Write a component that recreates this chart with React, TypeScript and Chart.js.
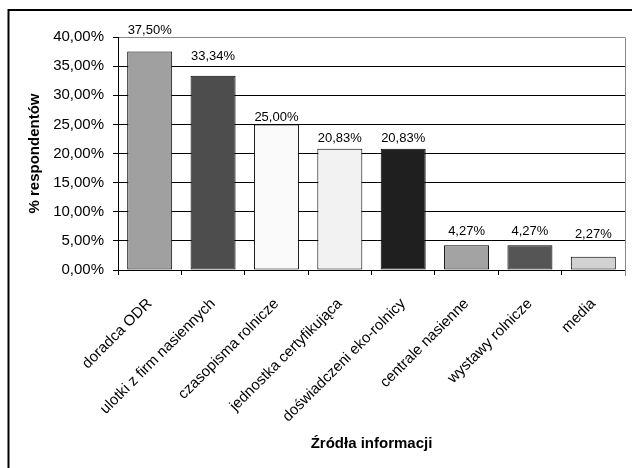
import React, { useEffect, useRef } from 'react';
import { Chart, registerables } from 'chart.js';

Chart.register(...registerables);

const categories = [
  'doradca ODR',
  'ulotki z firm nasiennych',
  'czasopisma rolnicze',
  'jednostka certyfikująca',
  'doświadczeni eko-rolnicy',
  'centrale nasienne',
  'wystawy rolnicze',
  'media',
];
const values = [37.5, 33.34, 25.0, 20.83, 20.83, 4.27, 4.27, 2.27];
const valueLabels = ['37,50%', '33,34%', '25,00%', '20,83%', '20,83%', '4,27%', '4,27%', '2,27%'];
const barColors = ['#a0a0a0', '#4d4d4d', '#fafafa', '#f2f2f2', '#1f1f1f', '#a3a3a3', '#555555', '#d2d2d2'];
const labelGaps = [18, 16, 3.5, 7, 7, 10, 10, 19];
const yTitle = '% respondentów';
const xTitle = 'Źródła informacji';
const yMin = 0;
const yMax = 40;
const yStep = 5;

const FONT = "'Liberation Sans', Arial, sans-serif";

const framePlugin = {
  id: 'frame',
  beforeDraw(chart: any) {
    const ctx = chart.ctx;
    ctx.save();
    ctx.fillStyle = '#ffffff';
    ctx.fillRect(0, 0, chart.width, chart.height);
    ctx.strokeStyle = '#000000';
    ctx.lineWidth = 2;
    ctx.strokeRect(8.5, 10, chart.width + 20, chart.height + 20);
    ctx.restore();
  },
  afterDatasetsDraw(chart: any) {
    const ctx = chart.ctx;
    const area = chart.chartArea;
    ctx.save();
    ctx.strokeStyle = '#888888';
    ctx.lineWidth = 1;
    ctx.beginPath();
    ctx.moveTo(Math.round(area.right) + 0.5, Math.round(area.top) + 0.5);
    ctx.lineTo(Math.round(area.right) + 0.5, Math.round(area.bottom) + 6);
    ctx.stroke();

    const meta = chart.getDatasetMeta(0);
    ctx.fillStyle = '#000000';
    ctx.font = `13px ${FONT}`;
    ctx.textAlign = 'center';
    ctx.textBaseline = 'alphabetic';
    meta.data.forEach((el: any, i: number) => {
      ctx.fillText(valueLabels[i], el.x, el.y - labelGaps[i]);
    });
    ctx.restore();
  },
};

export default function App() {
  const ref = useRef<HTMLCanvasElement | null>(null);

  useEffect(() => {
    if (!ref.current) return;
    const chart = new Chart(ref.current, {
      type: 'bar',
      data: {
        labels: categories,
        datasets: [
          {
            data: values,
            backgroundColor: barColors,
            borderColor: '#000000',
            borderWidth: 1,
            borderSkipped: false,
            barPercentage: 0.71,
            categoryPercentage: 1,
          },
        ],
      },
      options: {
        animation: false,
        responsive: false,
        devicePixelRatio: 1,
        layout: { padding: { top: 37, right: 7, left: 0, bottom: 0 } },
        plugins: {
          legend: { display: false },
          tooltip: { enabled: false },
        },
        scales: {
          x: {
            afterFit(scale: any) {
              scale.height = 198;
            },
            grid: {
              offset: true,
              drawOnChartArea: false,
              drawTicks: true,
              tickLength: 5,
              color: '#000000',
            },
            border: { display: true, color: '#000000', width: 1 },
            ticks: {
              autoSkip: false,
              maxRotation: 45,
              minRotation: 45,
              padding: 20,
              color: '#000000',
              font: { family: FONT, size: 15 },
            },
            title: {
              display: true,
              text: xTitle,
              color: '#000000',
              font: { family: FONT, size: 15, weight: 'bold' },
              padding: { top: 0, bottom: 15 },
            },
          },
          y: {
            min: yMin,
            max: yMax,
            afterFit(scale: any) {
              scale.width = 118;
            },
            grid: {
              color: (c: any) => (c.tick && c.tick.value === yMax ? '#888888' : '#000000'),
              tickColor: '#000000',
              tickLength: 5,
              drawTicks: true,
            },
            border: { display: true, color: '#000000', width: 1 },
            ticks: {
              stepSize: yStep,
              padding: 9,
              color: '#000000',
              font: { family: FONT, size: 15 },
              callback: (v: any) => Number(v).toFixed(2).replace('.', ',') + '%',
            },
            title: {
              display: true,
              text: yTitle,
              color: '#000000',
              font: { family: FONT, size: 15, weight: 'bold' },
              padding: { top: 26, bottom: 0 },
            },
          },
        },
      },
      plugins: [framePlugin],
    } as any);
    return () => chart.destroy();
  }, []);

  return (
    <div style={{ position: 'fixed', left: 0, top: 0, width: 632, height: 468, overflow: 'hidden', background: '#fff' }}>
      <canvas ref={ref} width={632} height={468} style={{ display: 'block', width: 632, height: 468 }} />
    </div>
  );
}
